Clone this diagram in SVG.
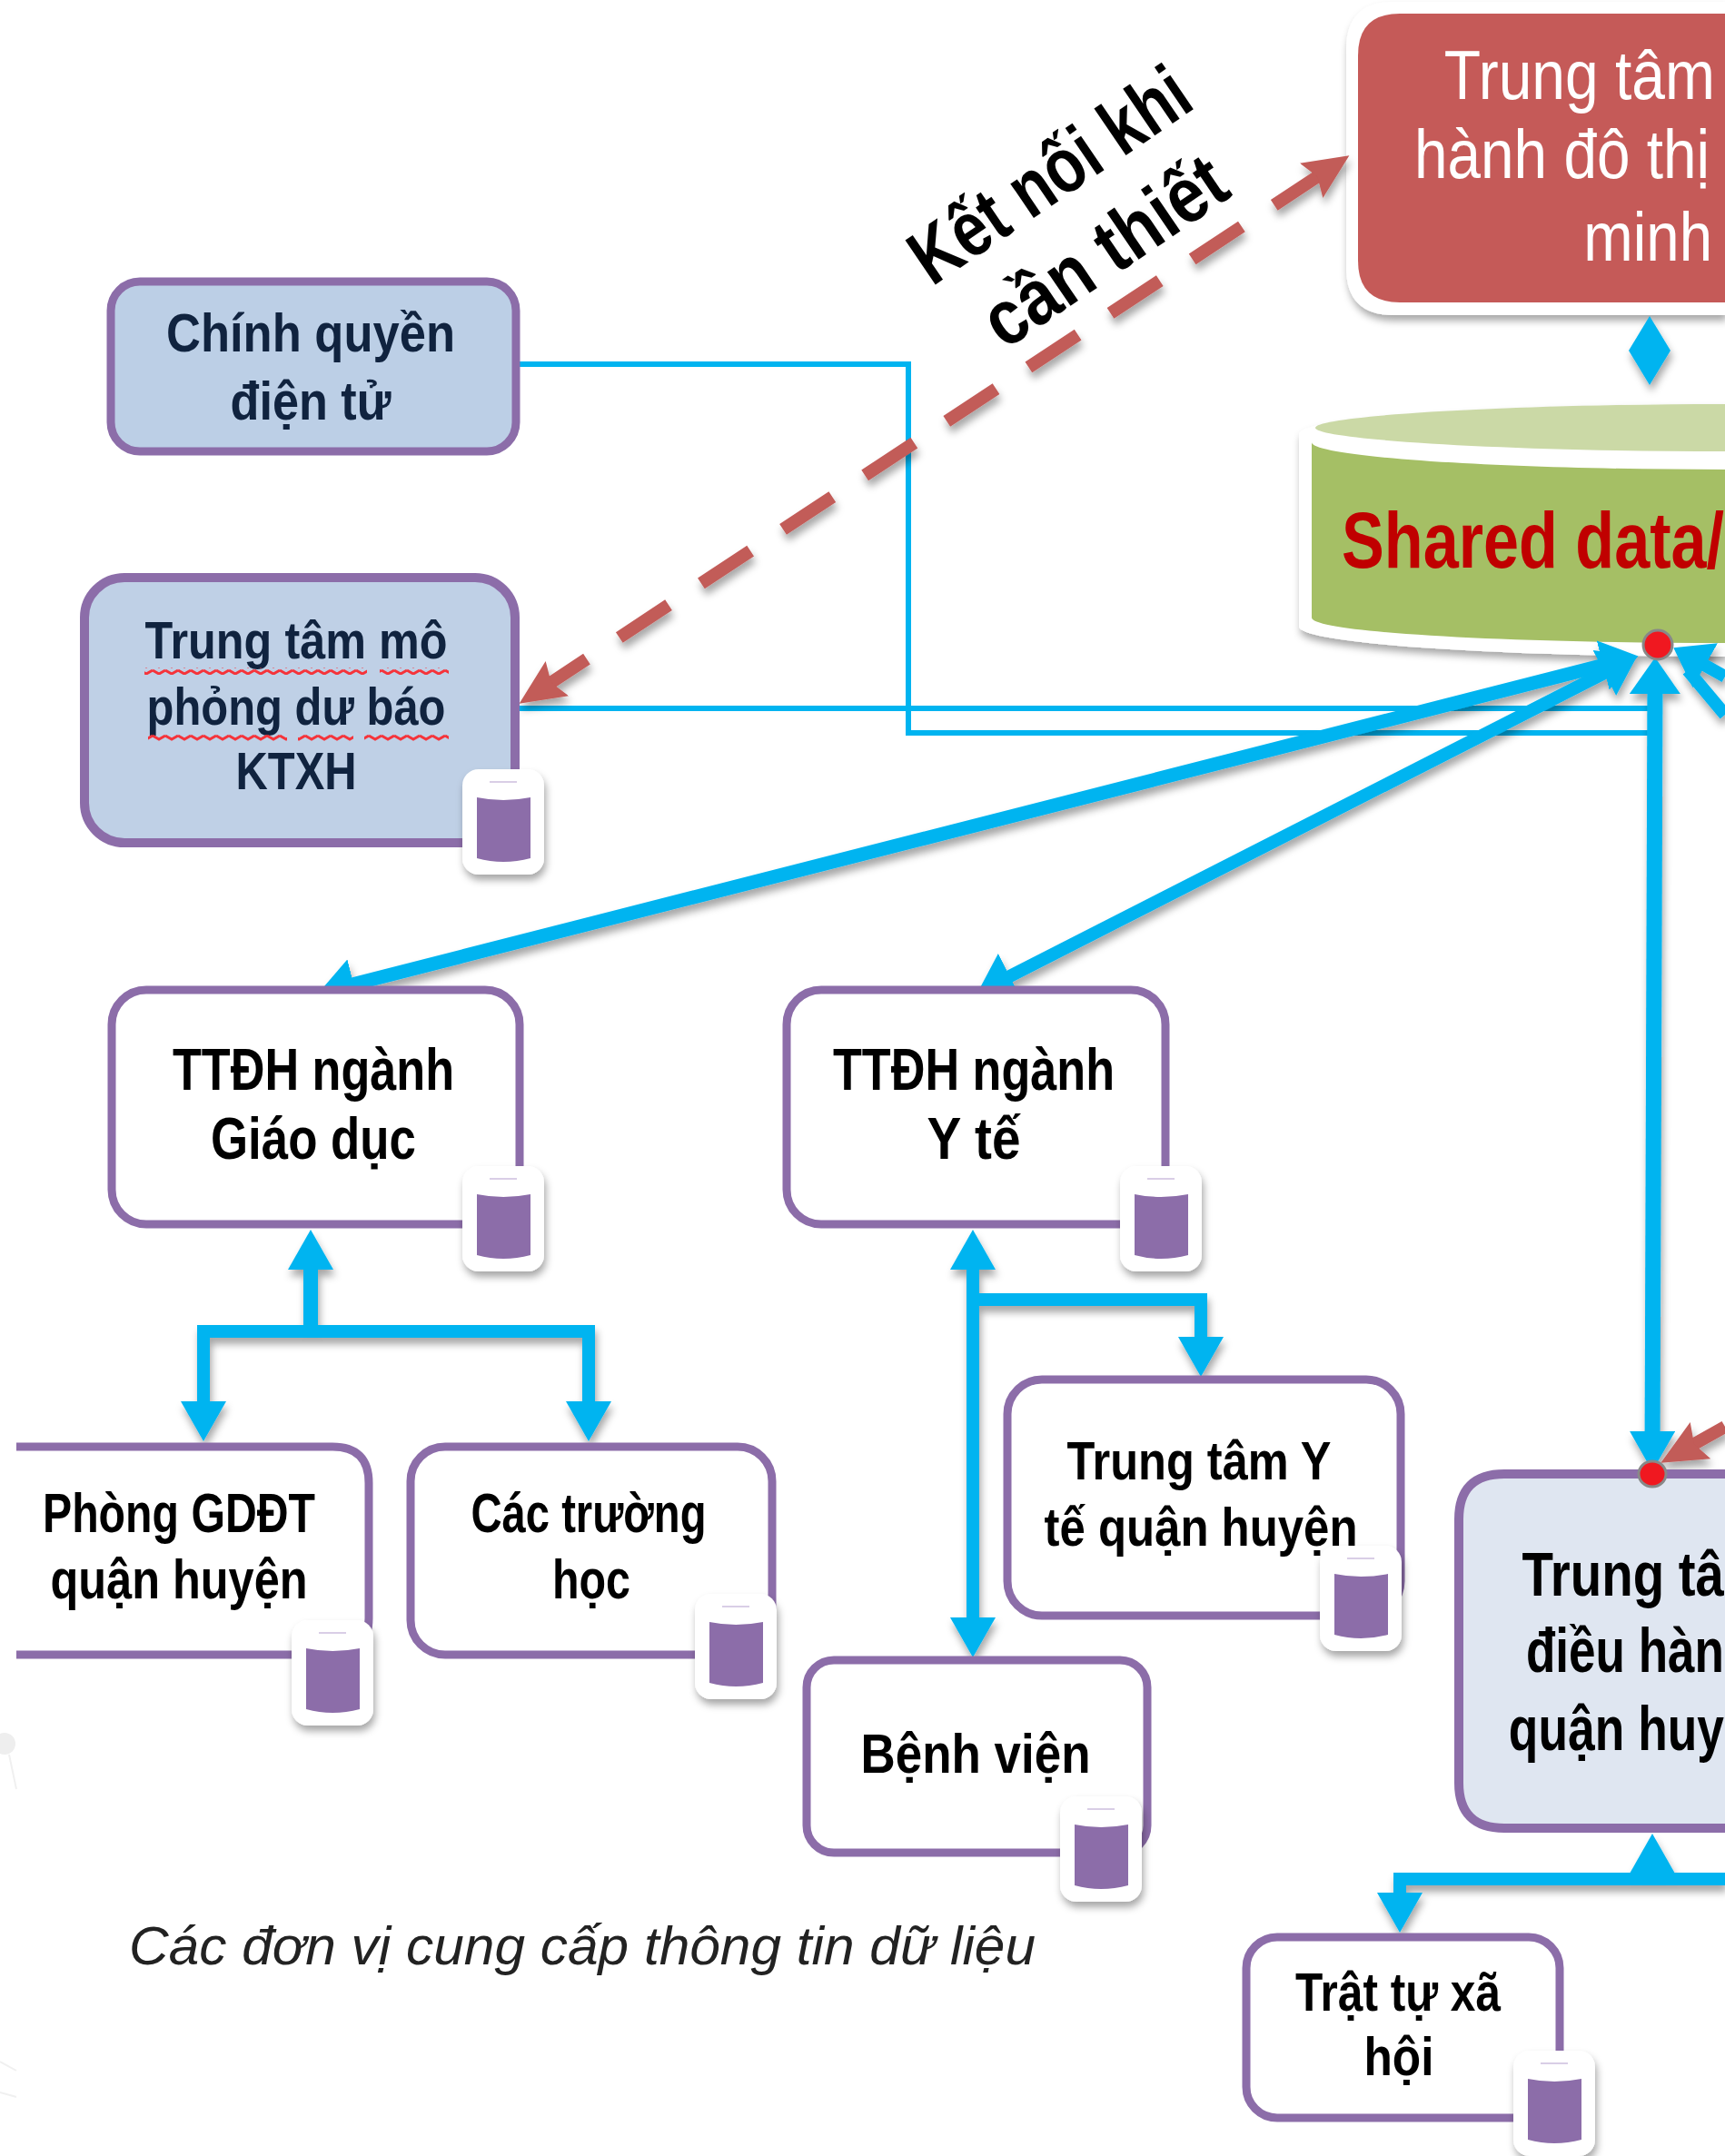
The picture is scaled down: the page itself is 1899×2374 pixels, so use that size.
<svg xmlns="http://www.w3.org/2000/svg" width="1899" height="2374" viewBox="0 0 1899 2374">
<style>
text{font-family:"Liberation Sans",Arial,sans-serif}
.box{fill:#fff;stroke:#8C6DA9;stroke-width:9}
.lbl{font-weight:700;fill:#000;text-anchor:middle}
.navy{fill:#10233F}
.edge{font-weight:700;fill:#000;text-anchor:end}
.white{fill:#fff;text-anchor:end}
.thin{fill:none;stroke:#00B4F0;stroke-width:6}
.thick{fill:none;stroke:#00B4F0;stroke-width:14}
.red{fill:none;stroke:#C25B58;stroke-width:14}
.faint{fill:none;stroke:#F0F0F0;stroke-width:2}
</style>
<defs>
<filter id="sh" x="-20%" y="-20%" width="140%" height="140%"><feDropShadow dx="2" dy="6" stdDeviation="4" flood-color="#000" flood-opacity=".35"/></filter>
<filter id="ls" filterUnits="userSpaceOnUse" x="0" y="0" width="1899" height="2374"><feDropShadow dx="2" dy="7" stdDeviation="4" flood-color="#000" flood-opacity=".35"/></filter>
<marker id="ah" markerUnits="userSpaceOnUse" markerWidth="46" markerHeight="50" refX="26" refY="25" orient="auto-start-reverse"><path d="M0 0L44 25L0 50Z" fill="#00B4F0"/></marker>
<marker id="ah2" markerUnits="userSpaceOnUse" markerWidth="46" markerHeight="56" refX="22" refY="28" orient="auto-start-reverse"><path d="M0 0L40 28L0 56Z" fill="#00B4F0"/></marker>
<marker id="rh" markerUnits="userSpaceOnUse" markerWidth="52" markerHeight="50" refX="16" refY="25" orient="auto-start-reverse"><path d="M0 2L50 25L0 48L8 25Z" fill="#C25B58"/></marker>
<pattern id="sq" width="14" height="8" patternUnits="userSpaceOnUse"><path d="M0 2L7 6L14 2" fill="none" stroke="#F5333A" stroke-width="3"/></pattern>
<g id="cyl"><rect width="90" height="116" rx="18" fill="#fff" filter="url(#sh)"/><path d="M16 31Q45 37 75 31V98Q45 106 16 98Z" fill="#8C6DA9"/><path d="M30 14H60" stroke="#D9CEE6" stroke-width="2"/></g>
</defs>
<rect width="1899" height="2374" fill="#fff"/>
<circle cx="5" cy="1920" r="12" fill="#EEE"/>
<path class="faint" d="M10 1932L18 1970M0 2270L18 2280M0 2304L18 2309"/>

<g id="central-centre">
<path d="M1899 2H1534Q1482 2 1482 54V295Q1482 347 1534 347H1899Z" fill="#fff" filter="url(#sh)"/>
<path d="M1899 15H1541Q1495 15 1495 61V287Q1495 333 1541 333H1899Z" fill="#C55A58"/>
<text class="white" font-size="76" transform="translate(1888 109) scale(.868 1)">Trung tâm</text>
<text class="white" font-size="76" transform="translate(1882 196) scale(.864 1)">hành đô thị</text>
<text class="white" font-size="76" transform="translate(1885 287) scale(.86 1)">minh</text>
</g>

<g id="shared-data">
<path d="M1899 445C1640 445 1430 460 1430 478V690C1430 708 1640 723 1899 723Z" fill="#fff" filter="url(#sh)"/>
<path d="M1899 445C1660 445 1448 458 1448 471C1448 484 1660 497 1899 497Z" fill="#CBD9A6"/>
<path d="M1444 487C1444 503 1650 517 1899 517V708C1650 708 1444 696 1444 680Z" fill="#A5BF65"/>
<text x="0" y="0" font-size="88" font-weight="700" fill="#C00000" text-anchor="end" transform="translate(1898 625) scale(.797 1)">Shared data/</text>
</g>

<g id="connectors">
<path class="thin" d="M568 401H1000V807H1816"/>
<path class="thin" d="M568 780H1816"/>
<g filter="url(#ls)">
<path class="red" stroke-dasharray="65 43" marker-start="url(#rh)" marker-end="url(#rh)" d="M1457 190L600 756"/>
<path class="red" marker-end="url(#rh)" d="M1899 1571L1858 1594"/>
<path class="thick" style="stroke-width:15" marker-start="url(#ah2)" marker-end="url(#ah2)" d="M1786 727L368 1089"/>
<path class="thick" marker-start="url(#ah2)" marker-end="url(#ah2)" d="M1786 731L1092 1085"/>
<path class="thick" marker-start="url(#ah2)" d="M1858 722L1899 745"/>
<path class="thick" d="M1858 738L1899 787"/>
<path class="thick" style="stroke-width:17" marker-start="url(#ah2)" marker-end="url(#ah)" d="M1822 742L1819 1602"/>
<path d="M1793 386L1816 348L1839 386L1816 424Z" fill="#00B4F0"/>
<path class="thick" style="stroke-width:16" marker-start="url(#ah)" d="M342 1372V1466"/>
<path class="thick" marker-end="url(#ah)" d="M342 1466H224V1569"/>
<path class="thick" marker-end="url(#ah)" d="M342 1466H648V1569"/>
<path class="thick" marker-start="url(#ah)" marker-end="url(#ah)" d="M1071 1372V1807"/>
<path class="thick" marker-end="url(#ah)" d="M1071 1431H1322V1498"/>
<path class="thick" marker-start="url(#ah)" d="M1819 2037V2069"/>
<path class="thick" marker-end="url(#ah)" d="M1899 2069H1541V2110"/>
</g>
</g>

<g id="e-gov">
<rect x="122" y="310" width="446" height="187" rx="32" fill="#BCCFE6" stroke="#8C6DA9" stroke-width="9"/>
<text class="lbl navy" x="342" y="387" font-size="60" textLength="318" lengthAdjust="spacingAndGlyphs">Chính quyền</text>
<text class="lbl navy" x="342" y="462" font-size="60" textLength="177" lengthAdjust="spacingAndGlyphs">điện tử</text>
</g>

<g id="forecast">
<rect x="93" y="636" width="474" height="292" rx="44" fill="#BFD0E6" stroke="#8C6DA9" stroke-width="10"/>
<text class="lbl navy" x="326" y="725" font-size="58" textLength="333" lengthAdjust="spacingAndGlyphs">Trung tâm mô</text>
<text class="lbl navy" x="326" y="798" font-size="58" textLength="329" lengthAdjust="spacingAndGlyphs">phỏng dư báo</text>
<text class="lbl navy" x="326" y="869" font-size="58" textLength="133" lengthAdjust="spacingAndGlyphs">KTXH</text>
<rect x="159" y="735" width="245" height="8" fill="url(#sq)"/><rect x="418" y="735" width="76" height="8" fill="url(#sq)"/>
<rect x="163" y="808" width="153" height="8" fill="url(#sq)"/><rect x="328" y="808" width="61" height="8" fill="url(#sq)"/><rect x="401" y="808" width="93" height="8" fill="url(#sq)"/>
<use href="#cyl" x="509" y="847"/>
</g>

<g id="edu">
<rect class="box" x="123" y="1090" width="449" height="258" rx="38"/>
<text class="lbl" x="345" y="1200" font-size="64" textLength="310" lengthAdjust="spacingAndGlyphs">TTĐH ngành</text>
<text class="lbl" x="345" y="1276" font-size="64" textLength="226" lengthAdjust="spacingAndGlyphs">Giáo dục</text>
<use href="#cyl" x="509" y="1284"/>
</g>

<g id="health">
<rect class="box" x="866" y="1090" width="417" height="258" rx="38"/>
<text class="lbl" x="1072" y="1200" font-size="64" textLength="310" lengthAdjust="spacingAndGlyphs">TTĐH ngành</text>
<text class="lbl" x="1072" y="1276" font-size="64" textLength="103" lengthAdjust="spacingAndGlyphs">Y tế</text>
<use href="#cyl" x="1233" y="1284"/>
</g>

<g id="phong-gddt">
<path class="box" d="M18 1593H366Q406 1593 406 1633V1782Q406 1822 366 1822H18"/>
<text class="lbl" x="197" y="1687" font-size="62" textLength="300" lengthAdjust="spacingAndGlyphs">Phòng GDĐT</text>
<text class="lbl" x="197" y="1760" font-size="62" textLength="283" lengthAdjust="spacingAndGlyphs">quận huyện</text>
<use href="#cyl" x="321" y="1784"/>
</g>

<g id="schools">
<rect class="box" x="452" y="1593" width="398" height="229" rx="38"/>
<text class="lbl" x="648" y="1687" font-size="62" textLength="259" lengthAdjust="spacingAndGlyphs">Các trường</text>
<text class="lbl" x="651" y="1760" font-size="62" textLength="86" lengthAdjust="spacingAndGlyphs">học</text>
<use href="#cyl" x="765" y="1755"/>
</g>

<g id="district-health">
<rect class="box" x="1109" y="1519" width="433" height="260" rx="38"/>
<text class="lbl" x="1320" y="1629" font-size="60" textLength="291" lengthAdjust="spacingAndGlyphs">Trung tâm Y</text>
<text class="lbl" x="1322" y="1702" font-size="60" textLength="345" lengthAdjust="spacingAndGlyphs">tế quận huyện</text>
<use href="#cyl" x="1453" y="1702"/>
</g>

<g id="hospital">
<rect class="box" x="888" y="1828" width="375" height="212" rx="30"/>
<text class="lbl" x="1074" y="1952" font-size="62" textLength="253" lengthAdjust="spacingAndGlyphs">Bệnh viện</text>
<use href="#cyl" x="1167" y="1978"/>
</g>

<g id="district-centre">
<path d="M1899 1623H1656Q1606 1623 1606 1673V1963Q1606 2013 1656 2013H1899" fill="#DFE6F1" stroke="#8C6DA9" stroke-width="10"/>
<text class="edge" font-size="68" transform="translate(1898 1757) scale(.83 1)">Trung tâ</text>
<text class="edge" font-size="68" transform="translate(1898 1841) scale(.78 1)">điều hàn</text>
<text class="edge" font-size="68" transform="translate(1898 1927) scale(.785 1)">quận huy</text>
</g>

<g id="social-order">
<rect class="box" x="1372" y="2133" width="345" height="199" rx="34"/>
<text class="lbl" x="1539" y="2214" font-size="60" textLength="226" lengthAdjust="spacingAndGlyphs">Trật tự xã</text>
<text class="lbl" x="1540" y="2285" font-size="60" textLength="77" lengthAdjust="spacingAndGlyphs">hội</text>
<use href="#cyl" x="1666" y="2258"/>
</g>

<g id="junctions">
<ellipse cx="1825" cy="710" rx="16" ry="16" fill="#F01820" stroke="#888" stroke-width="3"/>
<ellipse cx="1819" cy="1623" rx="15" ry="14" fill="#F01820" stroke="#888" stroke-width="3"/>
</g>

<g id="connector-labels">
<text x="1026" y="316" font-size="86" font-weight="700" fill="#000" transform="rotate(-34.2 1026 316)" textLength="353" lengthAdjust="spacingAndGlyphs">Kết nối khi</text>
<text x="1106" y="386" font-size="86" font-weight="700" fill="#000" transform="rotate(-34.2 1106 386)" textLength="305" lengthAdjust="spacingAndGlyphs">cần thiết</text>
</g>
<text x="142" y="2163" font-size="60" font-style="italic" fill="#222" textLength="998" lengthAdjust="spacingAndGlyphs">Các đơn vị cung cấp thông tin dữ liệu</text>
</svg>
